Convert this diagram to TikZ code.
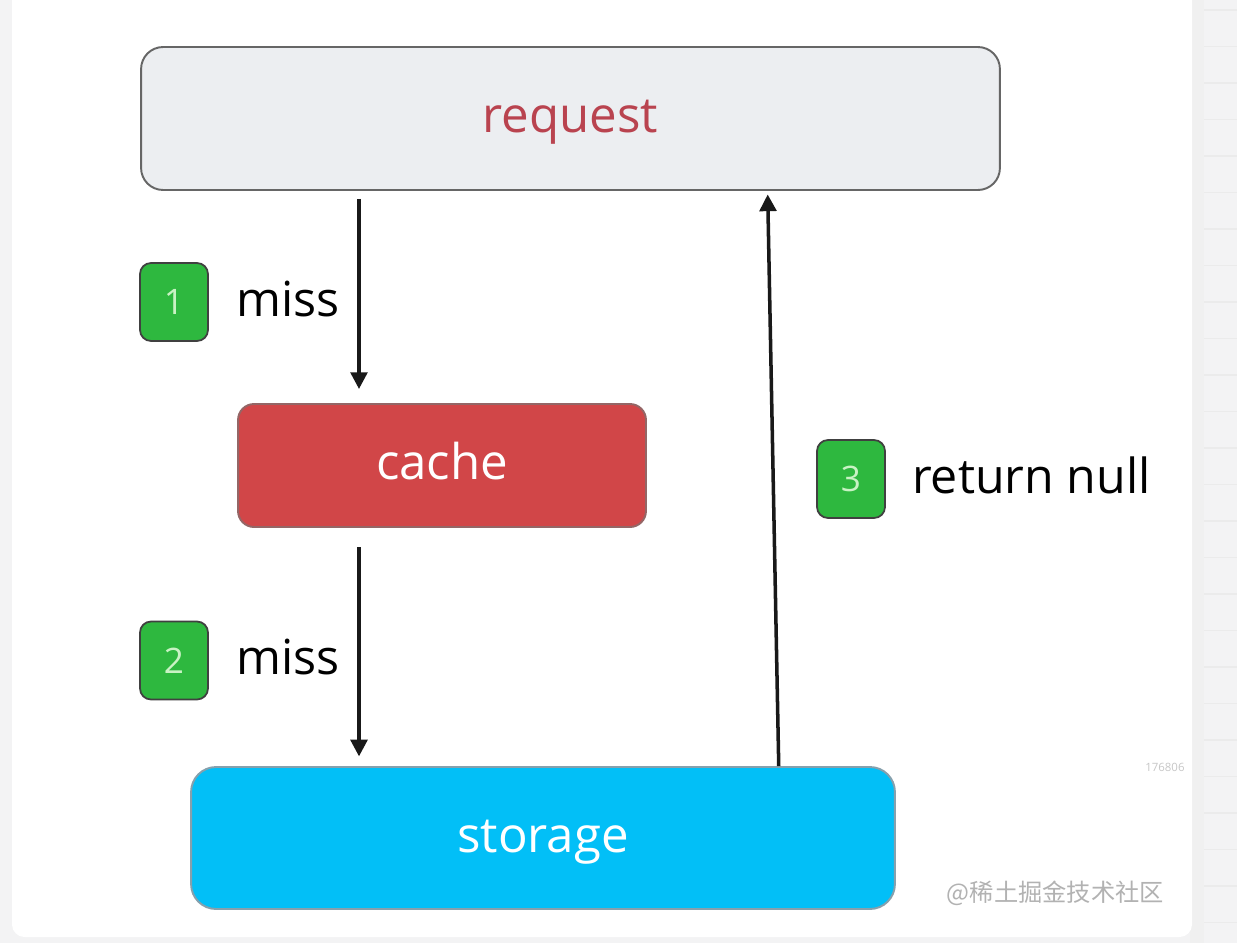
\documentclass[tikz,border=0pt]{standalone}
\usepackage{fontspec}
\setmainfont{Open Sans}
\newfontfamily\cjk{Noto Sans CJK SC}
\usepackage{tikz}
\usetikzlibrary{arrows.meta, positioning, calc}

\definecolor{reqfill}{HTML}{ECEEF1}
\definecolor{reqtext}{HTML}{B9434F}
\definecolor{cachefill}{HTML}{D14648}
\definecolor{storfill}{HTML}{02BFF7}
\definecolor{badgefill}{HTML}{2EB83F}
\definecolor{badgetext}{HTML}{C9F2C4}
\definecolor{pagebg}{HTML}{F3F3F4}

\begin{document}
\begin{tikzpicture}[x=0.02cm, y=-0.02cm,
  box/.style={draw, line width=1.1pt, align=center, text height=16pt, text depth=0pt,
    font=\fontsize{28}{33}\selectfont},
  badge/.style={draw=black!75, line width=1pt, fill=badgefill, rounded corners=0.22cm,
    minimum width=1.36cm, minimum height=1.56cm, text=badgetext,
    text height=14.3pt, text depth=0pt, font=\fontsize{20}{24}\selectfont},
  step label/.style={inner sep=0pt, text height=16pt, text depth=0pt,
    font=\fontsize{27.5}{33}\selectfont, anchor=west},
  arr/.style={-{Triangle[length=9.5pt, width=9.5pt]}, line width=2pt, black!90}]
  \useasboundingbox (0,0) rectangle (1237,943);
  % Page behind the card
  \fill[pagebg] (0,0) rectangle (1237,943);
  \foreach \ly in {10,46.5,...,940}
    \draw[black!8, line width=0.6pt] (1194,\ly) -- (1237,\ly);
  \fill[black!6] (1190,-20) rectangle (1204,943);
  \fill[white, rounded corners=0.25cm] (12,-20) rectangle (1192,937);
  % Boxes
  \node[box, draw=black!60, fill=reqfill, text=reqtext, rounded corners=0.44cm,
    minimum width=17.18cm, minimum height=2.86cm] (request) at (570.5,118.5) {request};
  \node[box, draw=black!70!red!60, fill=cachefill, text=white, rounded corners=0.32cm,
    minimum width=8.16cm, minimum height=2.46cm] (cache) at (442,465.5) {cache};
  \node[box, draw=black!60!cyan!60, fill=storfill, text=white, rounded corners=0.5cm,
    minimum width=14.08cm, minimum height=2.84cm] (storage) at (543,838) {storage};
  % Steps
  \node[badge] (b1) at (174,302) {1};
  \node[step label, right=0.54cm of b1] (miss1) {miss};
  \node[badge] (b2) at (174,660.5) {2};
  \node[step label, right=0.54cm of b2] (miss2) {miss};
  \node[badge] (b3) at (851,479) {3};
  \node[step label, right=0.52cm of b3] (ret) {return null};
  % Arrows
  \coordinate (col) at (359,0);
  \draw[arr, shorten <=4.5pt, shorten >=8pt] (request.south -| col) -- (cache.north -| col);
  \draw[arr, shorten <=11pt, shorten >=5.5pt] (cache.south -| col) -- (storage.north -| col);
  \coordinate (up0) at ($(storage.north west)!0.834!(storage.north east)$);
  \coordinate (up1) at ($(request.south west)!0.729!(request.south east)$);
  \draw[arr, shorten >=2pt] (up0) -- (up1);
  % Watermarks
  \node[text=black!30, font=\cjk\fontsize{13.8}{17}\selectfont, anchor=east] (mark) at (1170,893) {@稀土掘金技术社区};
  \begin{scope}
    \clip (1100,700) rectangle (1192,800);
    \node[text=black!22, font=\fontsize{6.5}{8}\selectfont, anchor=west, inner sep=0pt] (num) at (1145,767) {176806};
  \end{scope}
\end{tikzpicture}
\end{document}
